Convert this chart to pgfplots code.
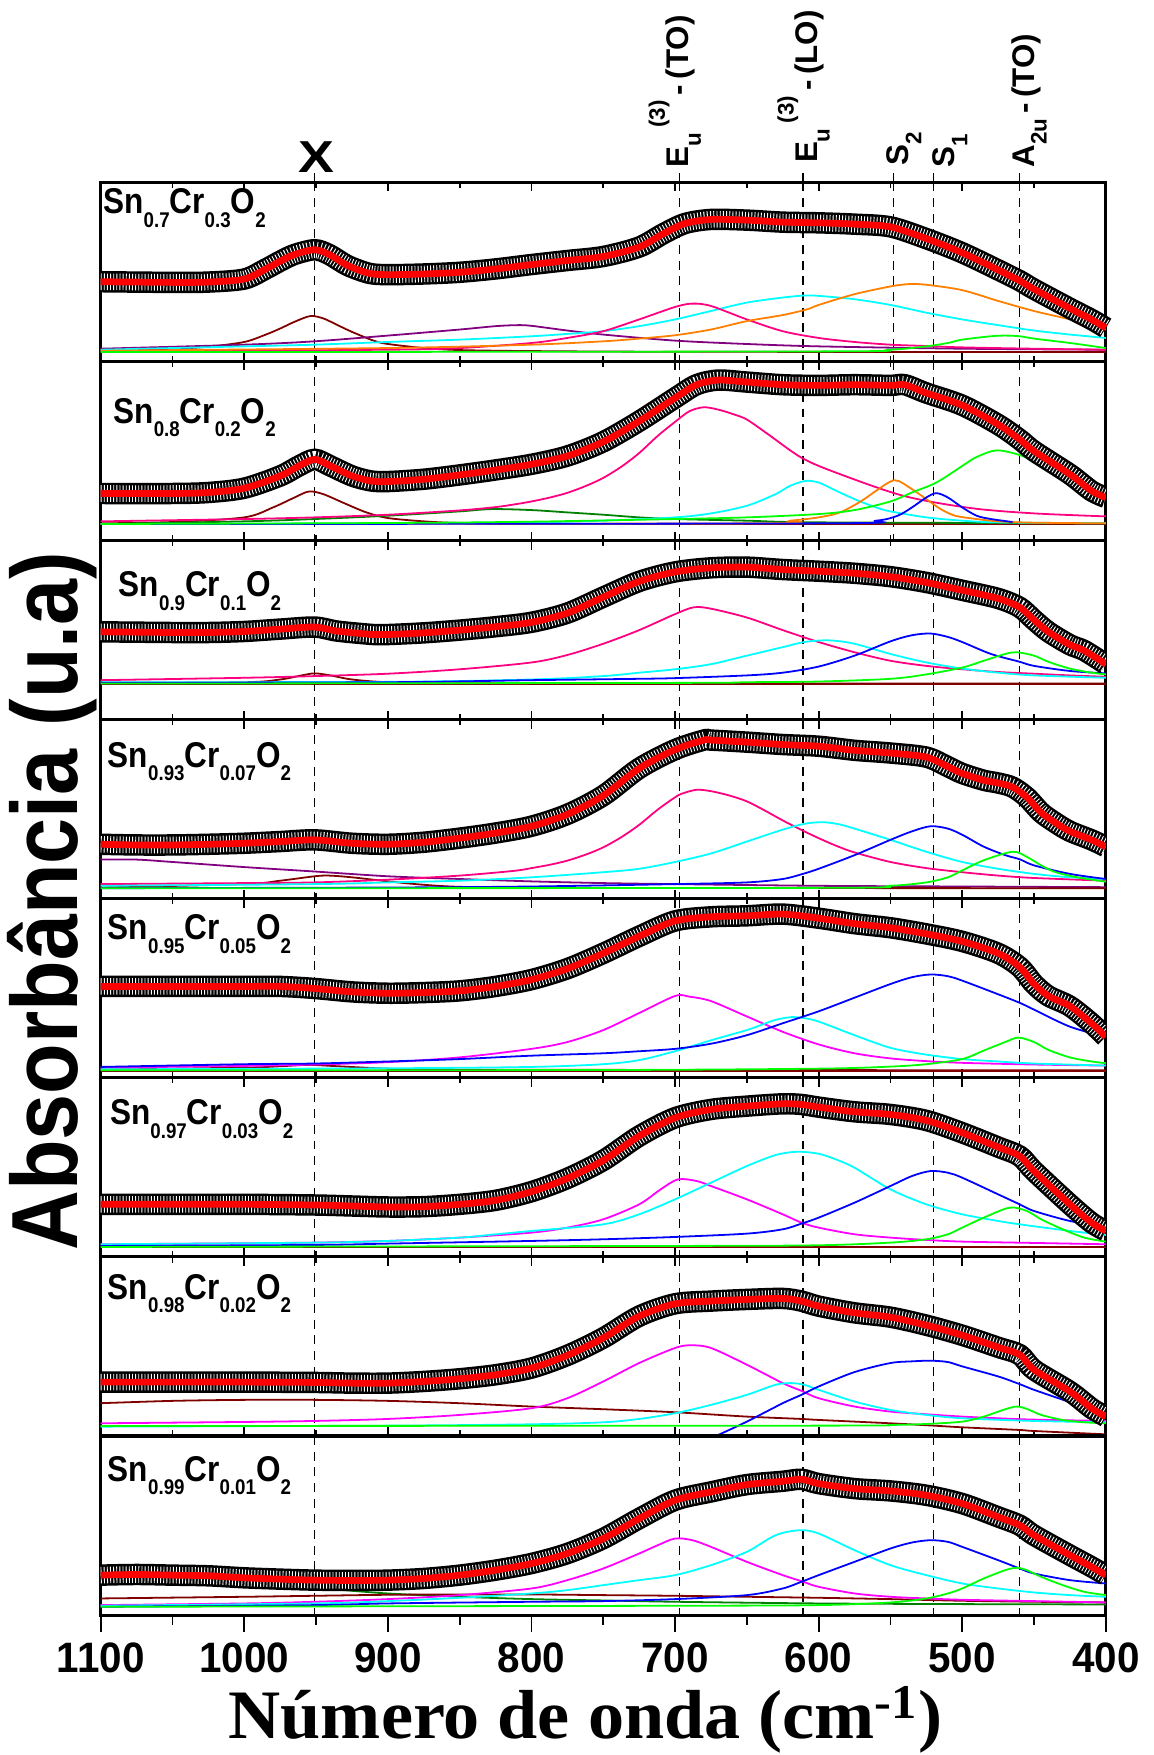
\documentclass[border=0pt]{standalone}
\usepackage{pgfplots}
\pgfplotsset{compat=1.18}
\usepackage{fontspec}
\usepackage{graphicx}
\setmainfont{Liberation Sans}
\newfontfamily\timesfont{Liberation Serif}

\definecolor{cmaroon}{RGB}{128,0,0}
\definecolor{cpurple}{RGB}{128,0,128}
\definecolor{ccyan}{RGB}{0,255,255}
\definecolor{cpink}{RGB}{255,0,128}
\definecolor{cmag}{RGB}{255,0,255}
\definecolor{corange}{RGB}{255,128,0}
\definecolor{cgreen}{RGB}{0,255,0}
\definecolor{cblue}{RGB}{0,0,255}
\definecolor{cdkgreen}{RGB}{0,128,0}
\definecolor{cred}{RGB}{255,0,0}

\newcommand{\tickfont}{\fontsize{19}{19}\selectfont\bfseries}
\newcommand{\lblfont}{\fontsize{14}{14}\selectfont\bfseries}
\newcommand{\lsub}[1]{\raisebox{-0.4em}{\fontsize{10}{10}\selectfont #1}}
\newcommand{\lsup}[1]{\raisebox{0.75em}{\fontsize{10}{10}\selectfont #1}}
\newcommand{\ssub}[1]{\raisebox{-6pt}{\fontsize{9.5}{9.5}\selectfont #1}}
\newcommand{\samp}[3]{\scalebox{0.88}[1]{Sn\ssub{#1}Cr\ssub{#2}O\ssub{#3}}}
\newcommand{\tl}[1]{\scalebox{0.95}[1]{#1}}

\tikzset{
  comp/.style={line width=0.8pt, smooth},
  fitline/.style={cred, line width=3pt, smooth},
  bandblack/.style={black, line width=9.6pt, smooth},
  bandwhite/.style={white, line width=7.4pt, smooth, dash pattern=on 0.4pt off 1pt},
  dashref/.style={black, line width=0.6pt, dash pattern=on 4pt off 3pt},
}

\pgfplotsset{
  panel/.style={
    width=449pt, height=80pt, scale only axis, anchor=north west,
    xmin=400, xmax=1100, x dir=reverse, y dir=reverse,
    ytick=\empty,
    xtick={400,500,...,1100}, minor x tick num=1,
    xticklabels={},
    tick align=inside, xtick pos=both,
    major tick length=4pt, minor tick length=2.5pt,
    axis line style={line width=1.4pt},
    every tick/.style={black, line width=0.8pt},
    extra x tick labels={},
    extra x tick style={grid=major, grid style={black, line width=0.6pt, dash pattern=on 4pt off 3pt}, major tick length=0pt},
  },
}

\begin{document}
\begin{tikzpicture}
\useasboundingbox (0,0) rectangle (515.5pt,784pt);

% ---------------- Panel 1: Sn0.7Cr0.3O2
\begin{axis}[panel, at={(45pt,702.5pt)}, ymin=548, ymax=1080, clip=false, extra x ticks={951,697,611,548,520,460}]
\addplot[comp, cmaroon] coordinates {(1100,1046) (1050,1042) (1025,1036) (1000,1022) (985,1000) (975,982) (965,962) (954,945) (945,952) (935,972) (925,992) (910,1018) (900,1028) (875,1040) (850,1046) (800,1049) (700,1051) (400,1052)};
\addplot[comp, cpurple] coordinates {(1100,1042) (1000,1030) (951,1020) (900,1003) (850,985) (825,975) (810,972) (800,974) (775,988) (750,1000) (700,1018) (650,1028) (600,1035) (500,1042) (400,1045)};
\addplot[comp, ccyan] coordinates {(1100,1045) (1000,1035) (951,1030) (900,1022) (850,1015) (800,1005) (775,998) (750,990) (725,975) (700,955) (675,930) (650,905) (625,890) (610,884) (600,885) (575,895) (550,912) (525,935) (500,955) (475,972) (450,988) (425,1000) (400,1010)};
\addplot[comp, cpink] coordinates {(1100,1050) (900,1045) (850,1040) (800,1025) (775,1010) (750,990) (725,955) (700,918) (688,908) (675,915) (650,955) (625,990) (600,1010) (575,1022) (550,1030) (525,1034) (500,1038) (450,1042) (400,1045)};
\addplot[comp, corange] coordinates {(1100,1048) (900,1040) (800,1030) (750,1020) (725,1012) (700,1002) (675,985) (650,960) (625,942) (608,925) (600,912) (575,880) (550,857) (537,850) (525,852) (500,868) (475,900) (450,930) (425,955) (400,985)};
\addplot[comp, cgreen] coordinates {(1100,1052) (600,1050) (550,1045) (525,1035) (510,1025) (500,1015) (480,1005) (470,1003) (460,1005) (450,1012) (425,1025) (400,1040)};
\addplot[bandblack] coordinates {(1100,843) (1050,845) (1025,844) (1000,835) (985,805) (975,782) (965,762) (951,748) (941,762) (928,795) (913,818) (900,822) (875,820) (850,815) (825,805) (800,792) (775,780) (750,768) (725,740) (708,700) (693,670) (675,658) (650,660) (625,666) (600,668) (575,672) (550,680) (525,715) (500,757) (475,808) (460,840) (450,865) (425,922) (410,955) (400,980)};
\addplot[bandwhite] coordinates {(1100,843) (1050,845) (1025,844) (1000,835) (985,805) (975,782) (965,762) (951,748) (941,762) (928,795) (913,818) (900,822) (875,820) (850,815) (825,805) (800,792) (775,780) (750,768) (725,740) (708,700) (693,670) (675,658) (650,660) (625,666) (600,668) (575,672) (550,680) (525,715) (500,757) (475,808) (460,840) (450,865) (425,922) (410,955) (400,980)};
\addplot[fitline] coordinates {(1100,843) (1050,845) (1025,844) (1000,835) (985,805) (975,782) (965,762) (951,748) (941,762) (928,795) (913,818) (900,822) (875,820) (850,815) (825,805) (800,792) (775,780) (750,768) (725,740) (708,700) (693,670) (675,658) (650,660) (625,666) (600,668) (575,672) (550,680) (525,715) (500,757) (475,808) (460,840) (450,865) (425,922) (410,955) (400,980)};
\draw[dashref] (axis cs:951,548) -- (axis cs:951,521);
\draw[dashref] (axis cs:697,548) -- (axis cs:697,504);
\draw[dashref] (axis cs:611,548) -- (axis cs:611,504);
\draw[dashref] (axis cs:548,548) -- (axis cs:548,504);
\draw[dashref] (axis cs:520,548) -- (axis cs:520,504);
\draw[dashref] (axis cs:460,548) -- (axis cs:460,504);
\end{axis}

% ---------------- Panel 2: Sn0.8Cr0.2O2
\begin{axis}[panel, at={(45pt,622.5pt)}, ymin=30, ymax=570, extra x ticks={951,697,611,548,520,460}]
\addplot[comp, cmaroon] coordinates {(1100,518) (1050,514) (1000,500) (980,470) (965,440) (955,422) (945,430) (930,458) (915,485) (900,502) (875,512) (850,517) (800,520) (400,520)};
\addplot[comp, cdkgreen] coordinates {(1100,520) (1000,512) (951,505) (900,495) (850,482) (828,475) (800,478) (775,485) (750,492) (725,500) (700,505) (650,510) (600,515) (400,518)};
\addplot[comp, cpink] coordinates {(1100,512) (1000,505) (951,500) (900,492) (850,479) (825,469) (812,461) (800,452) (787,440) (775,426) (762,405) (750,381) (737,346) (725,306) (712,254) (700,212) (690,180) (680,168) (670,175) (660,188) (650,205) (635,250) (612,320) (588,365) (541,435) (494,472) (450,488) (400,497)};
\addplot[comp, ccyan] coordinates {(1100,520) (900,518) (800,515) (750,510) (700,500) (675,488) (650,465) (630,430) (620,405) (609,390) (600,395) (590,415) (575,445) (560,470) (550,482) (525,500) (500,510) (475,515) (400,518)};
\addplot[comp, corange] coordinates {(1100,520) (650,518) (620,510) (600,500) (585,485) (570,450) (560,420) (547,388) (535,415) (525,445) (515,475) (505,495) (490,505) (475,512) (450,516) (400,518)};
\addplot[comp, cblue] coordinates {(1100,520) (600,518) (560,510) (545,495) (535,470) (525,440) (518,427) (510,440) (500,470) (490,495) (480,505) (465,514)};
\addplot[comp, cgreen] coordinates {(1100,520) (900,517) (800,513) (700,505) (650,500) (600,490) (575,478) (550,452) (535,425) (518,395) (500,345) (490,318) (476,298) (460,312) (445,340) (430,380) (415,415) (400,440)};
\addplot[bandblack] coordinates {(1100,428) (1050,428) (1025,425) (1000,412) (975,375) (962,345) (951,325) (940,345) (925,375) (912,390) (900,392) (875,385) (850,372) (825,357) (800,340) (775,315) (750,272) (725,210) (700,140) (685,100) (670,86) (650,92) (625,100) (600,102) (575,100) (550,102) (540,100) (525,125) (500,162) (475,220) (460,265) (450,300) (425,370) (410,420) (400,440)};
\addplot[bandwhite] coordinates {(1100,428) (1050,428) (1025,425) (1000,412) (975,375) (962,345) (951,325) (940,345) (925,375) (912,390) (900,392) (875,385) (850,372) (825,357) (800,340) (775,315) (750,272) (725,210) (700,140) (685,100) (670,86) (650,92) (625,100) (600,102) (575,100) (550,102) (540,100) (525,125) (500,162) (475,220) (460,265) (450,300) (425,370) (410,420) (400,440)};
\addplot[fitline] coordinates {(1100,428) (1050,428) (1025,425) (1000,412) (975,375) (962,345) (951,325) (940,345) (925,375) (912,390) (900,392) (875,385) (850,372) (825,357) (800,340) (775,315) (750,272) (725,210) (700,140) (685,100) (670,86) (650,92) (625,100) (600,102) (575,100) (550,102) (540,100) (525,125) (500,162) (475,220) (460,265) (450,300) (425,370) (410,420) (400,440)};
\end{axis}

% ---------------- Panel 3: Sn0.9Cr0.1O2
\begin{axis}[panel, at={(45pt,542.5pt)}, ymin=22, ymax=548, extra x ticks={951,697,611,520,460}]
\addplot[comp, cmaroon] coordinates {(1100,443) (400,443)};
\addplot[comp, cmaroon] coordinates {(1100,440) (1000,438) (975,430) (960,418) (951,412) (940,418) (925,430) (900,438) (850,441) (400,442)};
\addplot[comp, cpink] coordinates {(1100,432) (1000,425) (951,420) (900,413) (850,400) (800,380) (775,358) (750,325) (725,285) (700,238) (687,218) (675,222) (650,248) (625,285) (600,320) (575,350) (550,375) (525,390) (500,400) (475,408) (450,413) (425,418) (400,422)};
\addplot[comp, ccyan] coordinates {(1100,438) (900,437) (800,430) (750,420) (725,410) (700,400) (675,385) (650,360) (625,335) (610,320) (593,315) (575,325) (550,355) (525,380) (500,398) (475,410) (450,418) (400,425)};
\addplot[comp, cblue] coordinates {(1100,440) (900,438) (800,432) (725,428) (700,426) (650,418) (625,410) (600,392) (575,360) (550,318) (535,300) (522,295) (510,305) (500,320) (480,355) (460,378) (450,390) (425,405) (400,412)};
\addplot[comp, cgreen] coordinates {(1100,442) (700,440) (650,438) (600,436) (550,428) (525,415) (500,395) (485,375) (470,355) (462,350) (450,360) (440,378) (425,398) (410,410) (400,415)};
\addplot[bandblack] coordinates {(1100,290) (1075,291) (1050,292) (1025,292) (1000,289) (975,282) (951,276) (935,288) (910,298) (900,298) (875,293) (850,285) (825,275) (800,262) (775,235) (750,188) (725,142) (700,114) (675,102) (650,100) (625,107) (600,112) (575,118) (550,128) (525,145) (500,168) (475,192) (460,218) (450,255) (440,290) (425,328) (415,345) (400,385)};
\addplot[bandwhite] coordinates {(1100,290) (1075,291) (1050,292) (1025,292) (1000,289) (975,282) (951,276) (935,288) (910,298) (900,298) (875,293) (850,285) (825,275) (800,262) (775,235) (750,188) (725,142) (700,114) (675,102) (650,100) (625,107) (600,112) (575,118) (550,128) (525,145) (500,168) (475,192) (460,218) (450,255) (440,290) (425,328) (415,345) (400,385)};
\addplot[fitline] coordinates {(1100,290) (1075,291) (1050,292) (1025,292) (1000,289) (975,282) (951,276) (935,288) (910,298) (900,298) (875,293) (850,285) (825,275) (800,262) (775,235) (750,188) (725,142) (700,114) (675,102) (650,100) (625,107) (600,112) (575,118) (550,128) (525,145) (500,168) (475,192) (460,218) (450,255) (440,290) (425,328) (415,345) (400,385)};
\end{axis}

% ---------------- Panel 4: Sn0.93Cr0.07O2
\begin{axis}[panel, at={(45pt,462.5pt)}, ymin=22, ymax=548, extra x ticks={951,697,611,520,460}]
\addplot[comp, cpurple] coordinates {(1100,518) (400,518)};
\addplot[comp, cpurple] coordinates {(1100,433) (1075,433) (1050,440) (1000,455) (951,468) (900,482) (850,490) (800,497) (750,502) (700,505) (600,510) (500,512) (400,514)};
\addplot[comp, cmaroon] coordinates {(1100,515) (1000,505) (975,495) (951,482) (941,480) (925,485) (900,497) (875,507) (850,513) (800,516) (400,517)};
\addplot[comp, cpink] coordinates {(1100,505) (1000,502) (951,500) (900,492) (850,480) (812,466) (800,458) (787,448) (775,436) (762,418) (750,397) (737,366) (725,331) (712,286) (700,250) (695,239) (685,228) (675,232) (662,245) (650,262) (637,290) (625,318) (611,348) (600,370) (588,392) (575,412) (550,440) (525,458) (500,470) (475,480) (450,487) (400,495)};
\addplot[comp, ccyan] coordinates {(1100,510) (951,505) (900,500) (850,495) (800,485) (750,470) (725,460) (700,440) (675,415) (650,380) (625,345) (610,328) (597,323) (585,330) (575,342) (550,375) (525,410) (500,440) (475,460) (450,475) (425,485) (400,490)};
\addplot[comp, cblue] coordinates {(1100,517) (900,515) (800,512) (700,505) (650,500) (625,490) (611,475) (600,460) (575,420) (550,375) (535,350) (522,335) (510,342) (500,360) (485,395) (470,420) (460,432) (450,450) (425,475) (400,490)};
\addplot[comp, cgreen] coordinates {(1100,517) (600,516) (550,510) (525,500) (510,485) (500,465) (485,435) (465,410) (455,425) (445,450) (435,470) (420,485) (400,498)};
\addplot[bandblack] coordinates {(1100,388) (1075,390) (1050,390) (1025,388) (1000,385) (975,380) (951,375) (925,385) (900,388) (875,382) (850,370) (825,355) (800,335) (775,300) (750,245) (725,165) (700,110) (680,82) (675,82) (650,88) (625,95) (600,100) (575,112) (550,120) (525,132) (510,160) (500,180) (485,200) (475,208) (465,220) (455,250) (445,295) (435,325) (425,350) (410,375) (400,395)};
\addplot[bandwhite] coordinates {(1100,388) (1075,390) (1050,390) (1025,388) (1000,385) (975,380) (951,375) (925,385) (900,388) (875,382) (850,370) (825,355) (800,335) (775,300) (750,245) (725,165) (700,110) (680,82) (675,82) (650,88) (625,95) (600,100) (575,112) (550,120) (525,132) (510,160) (500,180) (485,200) (475,208) (465,220) (455,250) (445,295) (435,325) (425,350) (410,375) (400,395)};
\addplot[fitline] coordinates {(1100,388) (1075,390) (1050,390) (1025,388) (1000,385) (975,380) (951,375) (925,385) (900,388) (875,382) (850,370) (825,355) (800,335) (775,300) (750,245) (725,165) (700,110) (680,82) (675,82) (650,88) (625,95) (600,100) (575,112) (550,120) (525,132) (510,160) (500,180) (485,200) (475,208) (465,220) (455,250) (445,295) (435,325) (425,350) (410,375) (400,395)};
\end{axis}

% ---------------- Panel 5: Sn0.95Cr0.05O2
\begin{axis}[panel, at={(45pt,382.5pt)}, ymin=35, ymax=560, extra x ticks={951,697,611,520,460}]
\addplot[comp, cmaroon] coordinates {(1100,540) (400,540)};
\addplot[comp, cmaroon] coordinates {(1100,536) (1000,530) (975,526) (955,522) (935,526) (900,533) (850,536) (400,538)};
\addplot[comp, cmag] coordinates {(1100,530) (1000,525) (951,521) (900,514) (850,500) (800,475) (775,455) (750,420) (725,370) (700,320) (690,322) (675,335) (650,380) (625,425) (600,462) (575,488) (550,503) (525,511) (500,516) (450,521) (400,524)};
\addplot[comp, ccyan] coordinates {(1100,535) (900,532) (800,528) (750,520) (725,508) (700,482) (675,450) (650,420) (640,405) (630,390) (619,382) (610,385) (600,395) (575,435) (550,472) (525,492) (500,505) (475,512) (450,518) (400,524)};
\addplot[comp, cblue] coordinates {(1100,528) (1000,520) (951,518) (900,512) (850,505) (800,495) (750,488) (725,482) (700,475) (675,460) (650,435) (625,400) (600,365) (575,325) (550,285) (535,265) (522,257) (510,262) (500,275) (475,315) (460,340) (450,360) (425,410) (400,440)};
\addplot[comp, cgreen] coordinates {(1100,538) (750,537) (600,533) (550,527) (525,520) (500,505) (485,480) (470,455) (461,442) (450,455) (440,478) (425,500) (410,512) (400,517)};
\addplot[bandblack] coordinates {(1100,292) (1050,292) (1000,292) (975,292) (951,298) (925,308) (900,312) (875,310) (850,305) (825,292) (800,272) (775,240) (750,195) (725,145) (700,100) (675,88) (650,85) (625,80) (600,92) (575,108) (550,120) (525,138) (500,160) (475,195) (460,235) (450,285) (440,320) (425,350) (410,400) (400,440)};
\addplot[bandwhite] coordinates {(1100,292) (1050,292) (1000,292) (975,292) (951,298) (925,308) (900,312) (875,310) (850,305) (825,292) (800,272) (775,240) (750,195) (725,145) (700,100) (675,88) (650,85) (625,80) (600,92) (575,108) (550,120) (525,138) (500,160) (475,195) (460,235) (450,285) (440,320) (425,350) (410,400) (400,440)};
\addplot[fitline] coordinates {(1100,292) (1050,292) (1000,292) (975,292) (951,298) (925,308) (900,312) (875,310) (850,305) (825,292) (800,272) (775,240) (750,195) (725,145) (700,100) (675,88) (650,85) (625,80) (600,92) (575,108) (550,120) (525,138) (500,160) (475,195) (460,235) (450,285) (440,320) (425,350) (410,400) (400,440)};
\end{axis}

% ---------------- Panel 6: Sn0.97Cr0.03O2
\begin{axis}[panel, at={(45pt,302.5pt)}, ymin=20, ymax=558, extra x ticks={951,697,611,520,460}]
\addplot[comp, cmaroon] coordinates {(1100,528) (400,528)};
\addplot[comp, cmag] coordinates {(1100,520) (1000,517) (951,515) (900,510) (850,500) (800,485) (775,470) (750,445) (725,400) (710,355) (698,325) (685,330) (675,345) (650,385) (625,430) (612,455) (600,470) (575,490) (550,500) (525,507) (500,512) (450,516) (400,520)};
\addplot[comp, ccyan] coordinates {(1100,520) (951,515) (900,510) (850,500) (825,490) (800,480) (750,460) (725,430) (700,385) (675,335) (650,285) (630,252) (615,242) (600,248) (588,265) (575,290) (550,355) (525,400) (500,430) (475,450) (460,460) (425,480) (400,492)};
\addplot[comp, cblue] coordinates {(1100,525) (951,522) (900,518) (800,510) (750,505) (700,498) (650,488) (625,475) (612,458) (600,440) (575,395) (550,345) (535,315) (522,300) (510,305) (500,320) (475,370) (460,400) (450,420) (425,450) (400,468)};
\addplot[comp, cgreen] coordinates {(1100,528) (700,525) (600,523) (550,515) (525,505) (510,490) (500,470) (485,440) (467,410) (455,420) (445,445) (430,475) (415,500) (400,512)};
\addplot[bandblack] coordinates {(1100,400) (1050,400) (1000,400) (951,402) (925,405) (900,408) (875,407) (850,400) (825,388) (800,362) (775,322) (750,268) (725,195) (700,140) (675,115) (650,105) (625,98) (612,100) (600,108) (575,122) (550,130) (525,148) (500,185) (475,228) (460,255) (450,300) (425,400) (410,455) (400,480)};
\addplot[bandwhite] coordinates {(1100,400) (1050,400) (1000,400) (951,402) (925,405) (900,408) (875,407) (850,400) (825,388) (800,362) (775,322) (750,268) (725,195) (700,140) (675,115) (650,105) (625,98) (612,100) (600,108) (575,122) (550,130) (525,148) (500,185) (475,228) (460,255) (450,300) (425,400) (410,455) (400,480)};
\addplot[fitline] coordinates {(1100,400) (1050,400) (1000,400) (951,402) (925,405) (900,408) (875,407) (850,400) (825,388) (800,362) (775,322) (750,268) (725,195) (700,140) (675,115) (650,105) (625,98) (612,100) (600,108) (575,122) (550,130) (525,148) (500,185) (475,228) (460,255) (450,300) (425,400) (410,455) (400,480)};
\end{axis}

% ---------------- Panel 7: Sn0.98Cr0.02O2
\begin{axis}[panel, at={(45pt,222.5pt)}, ymin=28, ymax=563, extra x ticks={951,697,611,520,460}]
\addplot[comp, cmaroon] coordinates {(1100,465) (1050,458) (1000,455) (951,455) (900,458) (850,465) (800,475) (750,483) (700,492) (650,505) (612,512) (600,515) (550,525) (520,532) (500,537) (460,545) (450,548) (400,558)};
\addplot[comp, cmag] coordinates {(1100,525) (1000,521) (951,518) (900,512) (850,500) (800,480) (775,450) (750,400) (725,345) (700,300) (689,292) (675,300) (650,350) (625,405) (612,428) (600,450) (575,475) (550,490) (525,498) (500,505) (475,510) (450,514) (400,518)};
\addplot[comp, ccyan] coordinates {(1100,535) (900,532) (800,528) (750,522) (725,512) (700,495) (675,470) (650,440) (630,410) (619,405) (610,410) (600,425) (575,460) (550,485) (525,500) (500,510) (450,518) (400,522)};
\addplot[comp, cblue] coordinates {(670,560) (650,520) (625,465) (612,440) (600,415) (575,372) (550,345) (535,340) (522,338) (510,342) (500,355) (475,385) (460,408) (450,425) (425,462) (410,485) (400,508)};
\addplot[comp, cgreen] coordinates {(1100,533) (600,532) (550,530) (525,527) (500,520) (485,505) (470,483) (462,475) (455,482) (445,500) (430,515) (415,522) (400,525)};
\addplot[bandblack] coordinates {(1100,402) (1050,402) (1000,402) (951,403) (925,405) (900,405) (875,400) (850,392) (825,380) (800,360) (775,322) (750,270) (725,205) (700,168) (675,160) (650,155) (625,152) (612,160) (600,175) (575,195) (550,208) (525,232) (500,262) (475,298) (460,320) (450,365) (425,430) (410,480) (400,505)};
\addplot[bandwhite] coordinates {(1100,402) (1050,402) (1000,402) (951,403) (925,405) (900,405) (875,400) (850,392) (825,380) (800,360) (775,322) (750,270) (725,205) (700,168) (675,160) (650,155) (625,152) (612,160) (600,175) (575,195) (550,208) (525,232) (500,262) (475,298) (460,320) (450,365) (425,430) (410,480) (400,505)};
\addplot[fitline] coordinates {(1100,402) (1050,402) (1000,402) (951,403) (925,405) (900,405) (875,400) (850,392) (825,380) (800,360) (775,322) (750,270) (725,205) (700,168) (675,160) (650,155) (625,152) (612,160) (600,175) (575,195) (550,208) (525,232) (500,262) (475,298) (460,320) (450,365) (425,430) (410,480) (400,505)};
\end{axis}

% ---------------- Panel 8: Sn0.99Cr0.01O2 (bottom)
\begin{axis}[panel, at={(45pt,142.5pt)}, ymin=22, ymax=560, extra x ticks={951,697,611,520,460},
  tick align=outside, xtick pos=left, major tick length=7.5pt, minor tick length=4.5pt,
  xticklabels={\tl{400},\tl{500},\tl{600},\tl{700},\tl{800},\tl{900},\tl{1000},\tl{1100}},
  xticklabel style={font=\tickfont, inner sep=0pt, anchor=north, yshift=-4.5pt}]
\addplot[comp, cdkgreen] coordinates {(1100,440) (1075,440) (1050,445) (1000,460) (951,478) (925,487) (900,495) (850,505) (800,512) (750,516) (700,520) (600,525) (500,527) (400,528)};
\addplot[comp, cmaroon] coordinates {(1100,510) (1000,505) (951,502) (900,499) (850,498) (800,498) (750,500) (700,502) (650,505) (600,508) (550,512) (500,517) (450,520) (400,522)};
\addplot[comp, cmag] coordinates {(1100,530) (1000,525) (951,520) (900,512) (850,500) (800,480) (775,455) (750,420) (725,375) (712,350) (700,330) (688,335) (675,355) (650,400) (625,440) (612,458) (600,475) (575,495) (550,505) (525,510) (500,514) (450,518) (400,522)};
\addplot[comp, ccyan] coordinates {(1100,532) (951,525) (900,518) (850,508) (800,495) (775,485) (750,470) (725,455) (700,440) (675,410) (650,370) (630,320) (613,305) (600,315) (575,365) (550,410) (525,440) (500,465) (475,480) (450,492) (425,500) (400,505)};
\addplot[comp, cblue] coordinates {(1100,535) (951,530) (900,525) (800,520) (750,518) (700,512) (650,500) (625,480) (612,460) (600,440) (575,400) (550,360) (535,342) (522,335) (510,340) (500,355) (475,395) (460,420) (450,435) (425,455) (400,465)};
\addplot[comp, cgreen] coordinates {(1100,535) (700,532) (600,530) (550,522) (525,510) (510,495) (500,480) (485,450) (470,425) (462,418) (455,425) (445,445) (430,470) (415,490) (400,500)};
\addplot[bandblack] coordinates {(1100,440) (1075,438) (1050,440) (1025,442) (1000,448) (975,452) (951,455) (925,456) (900,455) (875,450) (850,440) (825,425) (800,405) (775,375) (750,330) (725,270) (700,215) (675,190) (650,168) (625,158) (612,152) (600,165) (575,180) (550,187) (525,200) (500,225) (475,265) (460,290) (450,320) (425,380) (410,415) (400,440)};
\addplot[bandwhite] coordinates {(1100,440) (1075,438) (1050,440) (1025,442) (1000,448) (975,452) (951,455) (925,456) (900,455) (875,450) (850,440) (825,425) (800,405) (775,375) (750,330) (725,270) (700,215) (675,190) (650,168) (625,158) (612,152) (600,165) (575,180) (550,187) (525,200) (500,225) (475,265) (460,290) (450,320) (425,380) (410,415) (400,440)};
\addplot[fitline] coordinates {(1100,440) (1075,438) (1050,440) (1025,442) (1000,448) (975,452) (951,455) (925,456) (900,455) (875,450) (850,440) (825,425) (800,405) (775,375) (750,330) (725,270) (700,215) (675,190) (650,168) (625,158) (612,152) (600,165) (575,180) (550,187) (525,200) (500,225) (475,265) (460,290) (450,320) (425,380) (410,415) (400,440)};
\end{axis}

% ---------------- sample labels
\begin{scope}[every node/.style={anchor=base west, inner sep=0pt, font=\fontsize{16}{16}\selectfont\bfseries}]
\node at (46pt,688.5pt) {\samp{0.7}{0.3}{2}};
\node at (50.5pt,595pt) {\samp{0.8}{0.2}{2}};
\node at (52.9pt,517.3pt) {\samp{0.9}{0.1}{2}};
\node at (48pt,441.2pt) {\samp{0.93}{0.07}{2}};
\node at (48pt,364.2pt) {\samp{0.95}{0.05}{2}};
\node at (49pt,281.6pt) {\samp{0.97}{0.03}{2}};
\node at (48pt,203.7pt) {\samp{0.98}{0.02}{2}};
\node at (48pt,122.4pt) {\samp{0.99}{0.01}{2}};
\end{scope}

% ---------------- top annotations
\node[font=\fontsize{20}{20}\selectfont\bfseries, inner sep=0pt] at (141.5pt,714pt) {\scalebox{1.2}[1]{X}};
\begin{scope}[every node/.style={rotate=90, anchor=base west, inner sep=0pt, font=\lblfont}]
\node at (307.5pt,709pt) {E\lsub{u}\,\lsup{(3)}\,-\,(TO)};
\node at (365pt,711pt) {E\lsub{u}\,\lsup{(3)}\,-\,(LO)};
\node at (406pt,710pt) {S\lsub{2}};
\node at (426.5pt,709pt) {S\lsub{1}};
\node at (462pt,709pt) {A\lsub{2u}\,-\,(TO)};
\end{scope}

% ---------------- axis titles
\node[rotate=90, inner sep=0pt, font=\fontsize{42}{42}\selectfont\bfseries] at (23.5pt,381.5pt) {\scalebox{0.88}[1]{Absorbância (u.a)}};
\node[anchor=base, inner sep=0pt, font=\timesfont\fontsize{31}{31}\selectfont\bfseries] at (261.5pt,7.5pt) {\scalebox{1.04}[1]{Número de onda (cm\textsuperscript{-1})}};
\end{tikzpicture}
\end{document}
